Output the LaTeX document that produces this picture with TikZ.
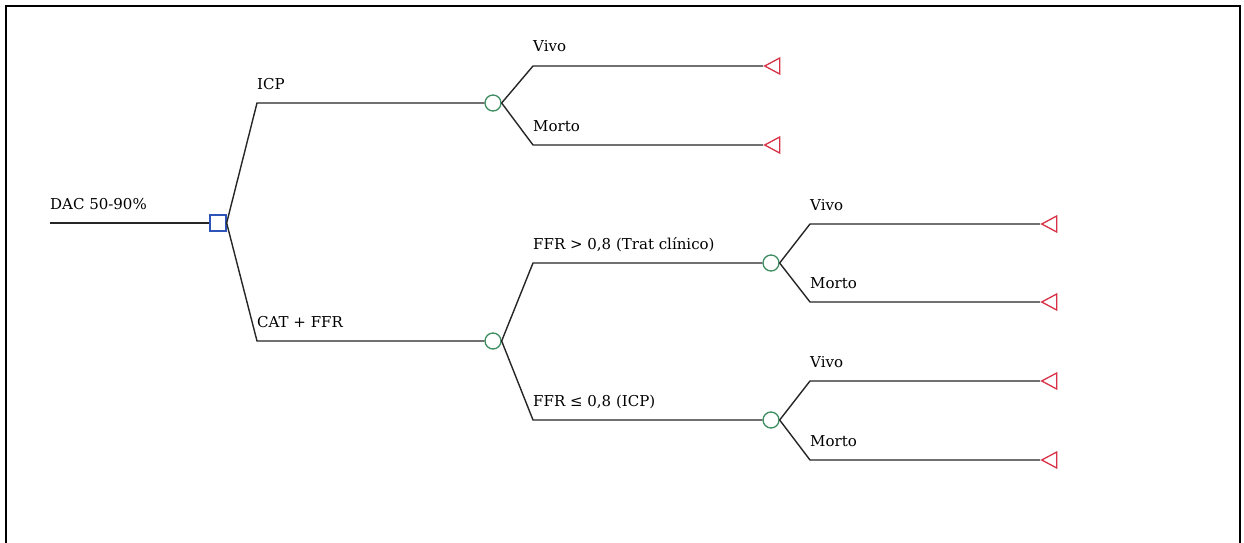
\documentclass[tikz,border=0pt]{standalone}
\usepackage{fontspec}
\setmainfont{DejaVu Serif}
\usetikzlibrary{shapes.geometric}
\definecolor{decblue}{RGB}{45,85,185}
\definecolor{chgreen}{RGB}{60,140,95}
\definecolor{termred}{RGB}{215,50,70}
\begin{document}
\begin{tikzpicture}[x=1pt,y=-1pt,
  edge/.style={draw=black!85, line width=1.4pt},
  decision/.style={draw=decblue, line width=1.3pt, rectangle, minimum size=16pt, inner sep=0pt},
  chance/.style={draw=chgreen, line width=1.3pt, circle, minimum size=16pt, inner sep=0pt},
  terminal/.style={draw=termred, line width=1.3pt, isosceles triangle, isosceles triangle stretches,
    shape border rotate=180, minimum width=16pt, minimum height=15pt, inner sep=0pt, anchor=apex},
  lbl/.style={anchor=base west, inner sep=0pt, font=\fontsize{15}{18}\selectfont}]
\useasboundingbox (0,0) rectangle (1244,543);
\fill[white] (0,0) rectangle (1244,543);
% frame
\draw[line width=2pt] (6,560) -- (6,6) -- (1240,6) -- (1240,560);

% decision node
\coordinate (start) at (50,223);
\node[decision] (root) at (218,223) {};
\draw[edge] (start) -- (root);
\node[lbl] at (50,209) {DAC 50-90\%};

% first strategy
\coordinate (b1) at (257,103);
\node[chance] (c1) at (493,103) {};
\draw[edge] (root.east) -- (b1) -- (c1);
\node[lbl] at (257,89) {ICP};

\coordinate (b11) at (533,66);
\node[terminal] (t11) at (763,66) {};
\draw[edge] (c1.east) -- (b11) -- (t11.apex);
\node[lbl] at (533,52) {Vivo};

\coordinate (b12) at (533,145);
\node[terminal] (t12) at (763,145) {};
\draw[edge] (c1.east) -- (b12) -- (t12.apex);
\node[lbl] at (533,131) {Morto};

% second strategy
\coordinate (b2) at (257,341);
\node[chance] (c2) at (493,341) {};
\draw[edge] (root.east) -- (b2) -- (c2);
\node[lbl] at (257,327) {CAT + FFR};

\coordinate (b21) at (533,263);
\node[chance] (c21) at (771,263) {};
\draw[edge] (c2.east) -- (b21) -- (c21);
\node[lbl] at (533,249) {FFR > 0,8 (Trat clínico)};

\coordinate (b22) at (533,420);
\node[chance] (c22) at (771,420) {};
\draw[edge] (c2.east) -- (b22) -- (c22);
\node[lbl] at (533,406) {FFR ≤ 0,8 (ICP)};

% outcomes after FFR > 0,8
\coordinate (b211) at (810,224);
\node[terminal] (t211) at (1040,224) {};
\draw[edge] (c21.east) -- (b211) -- (t211.apex);
\node[lbl] at (810,210) {Vivo};

\coordinate (b212) at (810,302);
\node[terminal] (t212) at (1040,302) {};
\draw[edge] (c21.east) -- (b212) -- (t212.apex);
\node[lbl] at (810,288) {Morto};

% outcomes after FFR <= 0,8
\coordinate (b221) at (810,381);
\node[terminal] (t221) at (1040,381) {};
\draw[edge] (c22.east) -- (b221) -- (t221.apex);
\node[lbl] at (810,367) {Vivo};

\coordinate (b222) at (810,460);
\node[terminal] (t222) at (1040,460) {};
\draw[edge] (c22.east) -- (b222) -- (t222.apex);
\node[lbl] at (810,446) {Morto};
\end{tikzpicture}
\end{document}
